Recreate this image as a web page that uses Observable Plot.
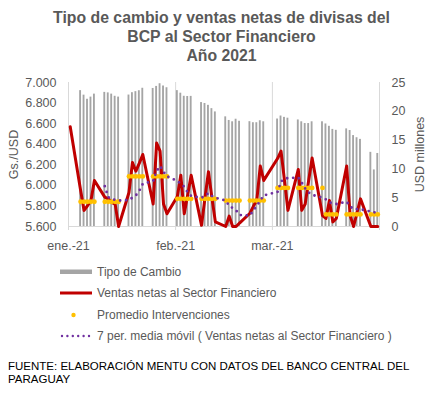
<!DOCTYPE html>
<html><head><meta charset="utf-8">
<script src="https://cdn.jsdelivr.net/npm/d3@7"></script>
<script src="https://cdn.jsdelivr.net/npm/@observablehq/plot@0.6"></script>
<style>
body{margin:0;background:#fff;}
#wrap{position:relative;width:443px;height:395px;overflow:hidden;font-family:"Liberation Sans",Arial,sans-serif;background:#fff;}
#title{position:absolute;left:0;top:8px;width:443px;text-align:center;font-weight:bold;font-size:15.8px;line-height:19px;color:#595959;}
#chart{position:absolute;left:0;top:68px;width:443px;height:190px;}
#chart svg{position:absolute;left:0;top:0;}
.lg{position:absolute;left:60px;height:20px;width:380px;font-size:12px;color:#595959;}
.lg svg{position:absolute;left:0;top:0;}
.lg span{position:absolute;left:37px;top:3px;white-space:nowrap;}
#foot{position:absolute;left:8px;top:360px;font-size:11.5px;line-height:12.5px;color:#000;white-space:nowrap;}
</style></head>
<body>
<div id="wrap">
  <div id="title">Tipo de cambio y ventas netas de divisas del<br>BCP al Sector Financiero<br>Año 2021</div>
  <div id="chart"></div>
  <div id="legend"></div>
  <div id="foot">FUENTE: ELABORACIÓN MENTU CON DATOS DEL BANCO CENTRAL DEL<br>PARAGUAY</div>
</div>
<script>
// ---- data ----
const fechas = [
 "2021-01-01",
 "2021-01-04","2021-01-05","2021-01-06","2021-01-07","2021-01-08",
 "2021-01-11","2021-01-12","2021-01-13","2021-01-14","2021-01-15",
 "2021-01-18","2021-01-19","2021-01-20","2021-01-21","2021-01-22",
 "2021-01-25","2021-01-26","2021-01-27","2021-01-28","2021-01-29",
 "2021-02-01","2021-02-02","2021-02-03","2021-02-04","2021-02-05",
 "2021-02-08","2021-02-09","2021-02-10","2021-02-11","2021-02-12",
 "2021-02-15","2021-02-16","2021-02-17","2021-02-18","2021-02-19",
 "2021-02-22","2021-02-23","2021-02-24","2021-02-25","2021-02-26",
 "2021-03-02","2021-03-03","2021-03-04","2021-03-05",
 "2021-03-08","2021-03-09","2021-03-10","2021-03-11","2021-03-12",
 "2021-03-15","2021-03-16","2021-03-17","2021-03-18","2021-03-19",
 "2021-03-22","2021-03-23","2021-03-24","2021-03-25","2021-03-26",
 "2021-03-29","2021-03-30","2021-03-31"
];
// Tipo de cambio (Gs./USD)
const tipoCambio = [
 null,
 6921,6877,6837,6858,6887,
 6904,6899,6887,6866,6858,
 6878,6901,6911,6920,6944,
 6942,6962,6988,6966,6949,
 6921,6896,6866,6864,6865,
 6805,6796,6778,6746,6714,
 6666,6631,6618,6643,6623,
 6619,6609,6609,6628,6618,
 6645,6674,6661,6653,
 6636,6618,6601,6601,6618,
 6618,6597,6574,6544,6535,
 6549,6533,6484,6463,6447,
 6321,6150,6310
];
// Ventas netas al Sector Financiero (USD millones)
const ventasNetas = [
 17.3,
 6.3,2.8,3.6,4.5,8.0,
 5.1,4.8,4.2,3.9,0,
 5.9,11.1,9.6,11.0,12.5,
 3.9,14.5,13.1,3.9,2.2,
 5.2,8.9,2.2,5.5,8.9,
 0.2,5.0,9.5,5.0,0.8,
 0,1.8,0,0,0.6,
 2.3,3.5,4.6,10.5,8.0,
 11.8,13.1,8.0,2.8,
 9.9,2.8,3.9,8.0,11.9,
 1.9,1.4,4.5,0.8,1.4,
 10.5,1.9,0,2.4,4.8,
 0,0,0
];
// Promedio Intervenciones (USD millones)
const promedioInterv = [
 null,
 4.3,4.3,4.3,4.3,4.3,
 4.3,4.3,4.3,4.3,4.3,
 8.7,8.7,8.7,8.7,8.7,
 8.7,8.7,8.7,8.7,8.7,
 4.8,4.8,4.8,4.8,4.8,
 4.8,4.8,4.8,4.8,4.8,
 4.5,4.5,4.5,4.5,4.5,
 4.5,4.5,4.5,4.5,4.5,
 6.7,6.7,6.7,6.7,
 6.7,6.7,6.7,6.7,6.7,
 6.7,2.1,2.1,2.1,2.1,
 2.1,2.1,2.1,2.1,2.1,
 2.1,2.1,2.1
];
// 7 per. media móvil (USD millones), as drawn
const mediaMovil = [
 null,
 null,null,null,null,null,
 7.0,5.1,4.8,4.6,4.5,
 4.6,5.0,5.4,6.2,7.4,
 7.9,9.6,10.5,9.5,8.7,
 7.9,7.4,6.9,5.9,5.3,
 5.0,5.3,5.8,5.3,5.0,
 4.5,3.6,3.2,2.8,2.0,
 1.9,2.8,3.6,4.5,5.4,
 6.0,7.8,8.3,8.4,
 8.5,7.6,6.6,5.9,5.5,
 5.0,4.7,4.2,4.0,3.9,
 4.3,3.5,3.0,3.0,3.0,
 2.6,2.5,1.8
];
const mesesFechas = ["2021-01-01","2021-02-01","2021-03-01","2021-04-01"];
const xTickLabels = ["ene.-21","feb.-21","mar.-21"];
const yLeftTicks = [5600,5800,6000,6200,6400,6600,6800,7000];
const yRightTicks = [0,5,10,15,20,25];
const seriesNames = ["Tipo de Cambio","Ventas netas al Sector Financiero","Promedio Intervenciones","7 per. media móvil ( Ventas netas al Sector Financiero )"];

// ---- build table ----
const rows = fechas.map((f,i)=>{
  const date = new Date(f+"T00:00:00Z");
  return {date, mid: d3.utcHour.offset(date,12), tc: tipoCambio[i], vn: ventasNetas[i], pi: promedioInterv[i], mm: mediaMovil[i]};
});
const gridDates = mesesFechas.map(f=>new Date(f+"T00:00:00Z"));
const tickDates = gridDates.slice(0,3);
const loc = d3.formatLocale({decimal:",",thousands:".",grouping:[3],currency:["",""]});
const fmtGs = loc.format(",");

const W=443,H=190,ML=68,MR=64,MT=14,MB=32;
const font = '"Liberation Sans", Arial, sans-serif';
const xDomain=[gridDates[0],gridDates[3]];

const left = Plot.plot({
  width:W,height:H,marginLeft:ML,marginRight:MR,marginTop:MT,marginBottom:MB,
  style:{fontFamily:font,fontSize:"12.5px",color:"#595959",background:"transparent"},
  x:{type:"utc",domain:xDomain},
  y:{domain:[5600,7000]},
  marks:[
    Plot.ruleX(gridDates,{stroke:"#D9D9D9",strokeWidth:1}),
    Plot.rect(rows.filter(d=>d.tc!=null),{x1:"date",x2:d=>d3.utcDay.offset(d.date,1),y1:5600,y2:"tc",fill:"#A5A5A5",insetLeft:0.8,insetRight:0.8}),
    Plot.ruleY([5600],{stroke:"#D9D9D9"}),
    Plot.axisX({ticks:gridDates,tickFormat:d=>{const k=tickDates.findIndex(t=>+t===+d);return k<0?"":xTickLabels[k];},tickSize:4,tickPadding:11,stroke:"#D9D9D9",fill:"#595959",label:null}),
    Plot.axisY({ticks:yLeftTicks,tickFormat:fmtGs,tickSize:0,tickPadding:12,fill:"#595959",label:"Gs./USD",labelAnchor:"center",labelOffset:59,labelArrow:"none"})
  ]
});

const right = Plot.plot({
  width:W,height:H,marginLeft:ML,marginRight:MR,marginTop:MT,marginBottom:MB,
  style:{fontFamily:font,fontSize:"12.5px",color:"#595959",background:"transparent"},
  x:{type:"utc",domain:xDomain,axis:null},
  y:{domain:[0,25]},
  marks:[
    Plot.line(rows,{x:"mid",y:"vn",stroke:"#C00000",strokeWidth:3,strokeLinejoin:"round"}),
    Plot.dot(rows.filter(d=>d.pi!=null),{x:"mid",y:"pi",fill:"#FFC000",r:2.4,stroke:null}),
    Plot.line(rows.filter(d=>d.mm!=null),{x:"mid",y:"mm",stroke:"#7030A0",strokeWidth:2.8,strokeDasharray:"0,6",strokeLinecap:"round"}),
    Plot.axisY({anchor:"right",ticks:yRightTicks,tickSize:0,tickPadding:12,fill:"#595959",label:"USD millones",labelAnchor:"center",labelOffset:44,labelArrow:"none"})
  ]
});

const chart=document.getElementById("chart");
chart.appendChild(left);
chart.appendChild(right);

// ---- legend ----
const legend=document.getElementById("legend");
const tops=[262,283.3,304.6,326];
const swatches=[
  '<rect x="0" y="7.5" width="32" height="4.5" fill="#A5A5A5"/>',
  '<line x1="0" x2="32" y1="10" y2="10" stroke="#C00000" stroke-width="3"/>',
  '<circle cx="13.5" cy="10" r="2.2" fill="#FFC000"/>',
  '<line x1="2" x2="30" y1="10" y2="10" stroke="#7030A0" stroke-width="2.4" stroke-dasharray="0,5.4" stroke-linecap="round"/>'
];
seriesNames.forEach((n,i)=>{
  const d=document.createElement("div");
  d.className="lg";d.style.top=tops[i]+"px";
  d.innerHTML='<svg width="34" height="20">'+swatches[i]+'</svg><span>'+n+'</span>';
  legend.appendChild(d);
});
</script>
</body></html>
